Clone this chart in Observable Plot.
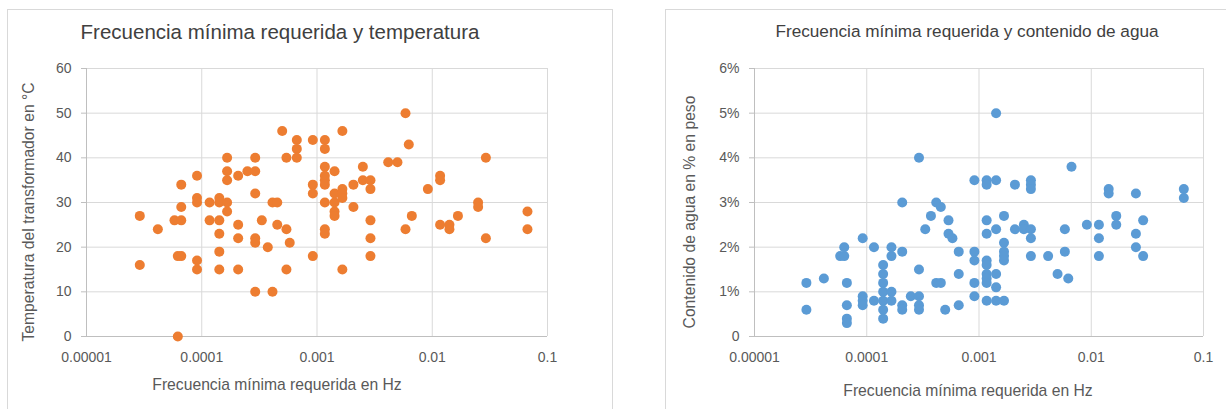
<!DOCTYPE html>
<html><head><meta charset="utf-8">
<script src="https://cdn.jsdelivr.net/npm/d3@7"></script>
<script src="https://cdn.jsdelivr.net/npm/@observablehq/plot@0.6"></script>
<style>
body{margin:0;background:#fff;}
#wrap{position:relative;width:1226px;height:409px;overflow:hidden;background:#fff;font-family:"Liberation Sans",Arial,sans-serif;}
.box{position:absolute;border:1px solid #d9d9d9;box-sizing:border-box;}
.t{position:absolute;white-space:nowrap;line-height:1;transform:translate(-50%,-50%);}
.plot{position:absolute;top:0;}
</style></head><body>
<div id="wrap">
  <div class="box" style="left:7px;top:9px;width:606px;height:430px"></div>
  <div class="box" style="left:665px;top:9px;width:600px;height:430px"></div>
  <div id="p1" class="plot" style="left:0"></div>
  <div id="p2" class="plot" style="left:640px"></div>
  <div class="t" style="left:280px;top:32px;font-size:20.5px;color:#404040">Frecuencia mínima requerida y temperatura</div>
  <div class="t" style="left:967px;top:32px;font-size:17.2px;color:#404040">Frecuencia mínima requerida y contenido de agua</div>
  <div class="t" style="left:277px;top:385px;font-size:15.7px;color:#595959">Frecuencia mínima requerida en Hz</div>
  <div class="t" style="left:968px;top:391px;font-size:15.7px;color:#595959">Frecuencia mínima requerida en Hz</div>
  <div class="t" style="left:29px;top:212px;font-size:15.7px;color:#595959;transform:translate(-50%,-50%) rotate(-90deg)">Temperatura del transformador en °C</div>
  <div class="t" style="left:690px;top:212px;font-size:15.7px;color:#595959;transform:translate(-50%,-50%) rotate(-90deg)">Contenido de agua en % en peso</div>
</div>
<script>
// X ticks (shared)
const xTicks = [0.00001, 0.0001, 0.001, 0.01, 0.1];
const xTickLabels = ["0.00001", "0.0001", "0.001", "0.01", "0.1"];

// Left chart: temperature
const tempTicks = [0, 10, 20, 30, 40, 50, 60];
const tempTickLabels = ["0", "10", "20", "30", "40", "50", "60"];
const freqTemp = [
  2.9e-5, 2.9e-5,
  4.16e-5,
  5.8e-5,
  6.2e-5, 6.2e-5,
  6.64e-5, 6.64e-5, 6.64e-5, 6.64e-5,
  9.1e-5, 9.1e-5, 9.1e-5, 9.1e-5, 9.1e-5,
  1.17e-4, 1.17e-4,
  1.42e-4, 1.42e-4, 1.42e-4, 1.42e-4, 1.42e-4, 1.42e-4,
  1.66e-4, 1.66e-4, 1.66e-4, 1.66e-4, 1.66e-4,
  2.07e-4, 2.07e-4, 2.07e-4, 2.07e-4,
  2.49e-4,
  2.91e-4, 2.91e-4, 2.91e-4, 2.91e-4, 2.91e-4, 2.91e-4,
  3.32e-4,
  3.74e-4,
  4.11e-4, 4.11e-4,
  4.52e-4, 4.52e-4,
  4.99e-4,
  5.43e-4, 5.43e-4, 5.43e-4,
  5.8e-4,
  6.68e-4, 6.68e-4, 6.68e-4,
  9.2e-4, 9.2e-4, 9.2e-4, 9.2e-4,
  1.17e-3, 1.17e-3, 1.17e-3, 1.17e-3, 1.17e-3, 1.17e-3, 1.17e-3, 1.17e-3, 1.17e-3,
  1.42e-3, 1.42e-3, 1.42e-3, 1.42e-3, 1.42e-3,
  1.66e-3, 1.66e-3, 1.66e-3, 1.66e-3, 1.66e-3,
  2.07e-3, 2.07e-3,
  2.5e-3, 2.5e-3,
  2.91e-3, 2.91e-3, 2.91e-3, 2.91e-3, 2.91e-3,
  4.15e-3,
  4.99e-3,
  5.86e-3, 5.86e-3,
  6.26e-3,
  6.65e-3,
  9.16e-3,
  1.17e-2, 1.17e-2, 1.17e-2,
  1.41e-2, 1.41e-2,
  1.67e-2,
  2.5e-2, 2.5e-2,
  2.92e-2, 2.92e-2,
  6.7e-2, 6.7e-2
];
const temp = [
  27, 16,
  24,
  26,
  18, 0,
  26, 34, 29, 18,
  36, 31, 30, 17, 15,
  30, 26,
  31, 30, 26, 23, 19, 15,
  40, 37, 35, 30, 28,
  36, 25, 22, 15,
  37,
  40, 37, 32, 22, 21, 10,
  26,
  20,
  30, 10,
  30, 25,
  46,
  40, 24, 15,
  21,
  44, 42, 40,
  44, 34, 32, 18,
  44, 42, 38, 36, 35, 34, 30, 24, 23,
  37, 32, 30, 28, 27,
  46, 33, 32, 31, 15,
  34, 29,
  38, 35,
  35, 33, 26, 22, 18,
  39,
  39,
  50, 24,
  43,
  27,
  33,
  36, 35, 25,
  25, 24,
  27,
  30, 29,
  40, 22,
  28, 24
];

// Right chart: water content (% by weight)
const waterTicks = [0, 1, 2, 3, 4, 5, 6];
const waterTickLabels = ["0", "1%", "2%", "3%", "4%", "5%", "6%"];
const freqWater = [
  2.9e-5, 2.9e-5,
  4.15e-5,
  5.8e-5,
  6.3e-5, 6.3e-5,
  6.65e-5, 6.65e-5, 6.65e-5, 6.65e-5,
  9.2e-5, 9.2e-5, 9.2e-5, 9.2e-5,
  1.16e-4, 1.16e-4,
  1.4e-4, 1.4e-4, 1.4e-4, 1.4e-4, 1.4e-4, 1.4e-4, 1.4e-4,
  1.66e-4, 1.66e-4, 1.66e-4, 1.66e-4,
  2.07e-4, 2.07e-4, 2.07e-4, 2.07e-4,
  2.47e-4,
  2.92e-4, 2.92e-4, 2.92e-4, 2.92e-4, 2.92e-4,
  3.32e-4,
  3.73e-4,
  4.16e-4, 4.16e-4,
  4.57e-4, 4.57e-4,
  5.0e-4,
  5.35e-4, 5.35e-4,
  5.8e-4,
  6.6e-4, 6.6e-4, 6.6e-4,
  9.1e-4, 9.1e-4, 9.1e-4, 9.1e-4, 9.1e-4,
  1.17e-3, 1.17e-3, 1.17e-3, 1.17e-3, 1.17e-3, 1.17e-3, 1.17e-3, 1.17e-3, 1.17e-3, 1.17e-3,
  1.42e-3, 1.42e-3, 1.42e-3, 1.42e-3, 1.42e-3, 1.42e-3,
  1.67e-3, 1.67e-3, 1.67e-3, 1.67e-3, 1.67e-3, 1.67e-3,
  2.09e-3, 2.09e-3,
  2.51e-3, 2.51e-3,
  2.9e-3, 2.9e-3, 2.9e-3, 2.9e-3, 2.9e-3, 2.9e-3,
  4.13e-3,
  5.01e-3,
  5.82e-3, 5.82e-3,
  6.24e-3,
  6.67e-3,
  9.14e-3,
  1.17e-2, 1.17e-2, 1.17e-2,
  1.43e-2, 1.43e-2,
  1.67e-2, 1.67e-2,
  2.5e-2, 2.5e-2, 2.5e-2,
  2.9e-2, 2.9e-2,
  6.68e-2, 6.68e-2
];
const water = [
  1.2, 0.6,
  1.3,
  1.8,
  1.8, 2.0,
  1.2, 0.7, 0.4, 0.3,
  2.2, 0.9, 0.8, 0.7,
  2.0, 0.8,
  1.6, 1.4, 1.2, 1.0, 0.8, 0.6, 0.4,
  2.0, 1.8, 1.0, 0.8,
  3.0, 1.9, 0.7, 0.6,
  0.9,
  4.0, 1.5, 0.9, 0.7, 0.6,
  2.4,
  2.7,
  3.0, 1.2,
  2.9, 1.2,
  0.6,
  2.6, 2.3,
  2.2,
  1.9, 1.4, 0.7,
  3.5, 1.9, 1.7, 1.2, 0.9,
  3.5, 3.4, 2.6, 2.3, 1.7, 1.6, 1.4, 1.3, 1.2, 0.8,
  5.0, 3.5, 2.4, 1.4, 1.1, 0.8,
  2.7, 2.1, 1.9, 1.8, 1.7, 0.8,
  3.4, 2.4,
  2.5, 2.4,
  3.5, 3.4, 3.3, 2.4, 2.2, 1.8,
  1.8,
  1.4,
  2.4, 1.9,
  1.3,
  3.8,
  2.5,
  2.5, 2.2, 1.8,
  3.3, 3.2,
  2.7, 2.5,
  3.2, 2.3, 2.0,
  2.6, 1.8,
  3.3, 3.1
];

const tempData = freqTemp.map((f, i) => ({f, v: temp[i]}));
const waterData = freqWater.map((f, i) => ({f, v: water[i]}));

function panel({data, yTicks, yLabels, yMax, color, width, marginLeft, marginRight}) {
  return Plot.plot({
    width, height: 409,
    marginLeft, marginRight, marginTop: 68, marginBottom: 73,
    style: {background: "transparent", fontFamily: "'Liberation Sans', Arial, sans-serif", fontSize: "14px", color: "#595959"},
    x: {type: "log", domain: [xTicks[0], xTicks[xTicks.length - 1]]},
    y: {domain: [0, yMax]},
    marks: [
      Plot.gridX(xTicks, {stroke: "#d9d9d9", strokeOpacity: 1}),
      Plot.gridY(yTicks, {stroke: "#d9d9d9", strokeOpacity: 1}),
      Plot.ruleX([xTicks[0]], {stroke: "#bfbfbf"}),
      Plot.ruleY([0], {stroke: "#bfbfbf"}),
      Plot.axisX(xTicks, {tickFormat: (d) => xTickLabels[xTicks.indexOf(d)], tickSize: 0, tickPadding: 16, label: null, fill: "#595959", fontSize: 14}),
      Plot.axisY(yTicks, {tickFormat: (d) => yLabels[yTicks.indexOf(d)], tickSize: 5, tickPadding: 10, label: null, stroke: "#bfbfbf", fill: "#595959", fontSize: 14}),
      Plot.dot(data, {x: "f", y: "v", r: 5, fill: color, stroke: "none"})
    ]
  });
}

document.getElementById("p1").append(panel({data: tempData, yTicks: tempTicks, yLabels: tempTickLabels, yMax: 60, color: "#ED7D31", width: 612, marginLeft: 86, marginRight: 65}));
document.getElementById("p2").append(panel({data: waterData, yTicks: waterTicks, yLabels: waterTickLabels, yMax: 6, color: "#5B9BD5", width: 586, marginLeft: 114, marginRight: 23}));
</script>
</body></html>
